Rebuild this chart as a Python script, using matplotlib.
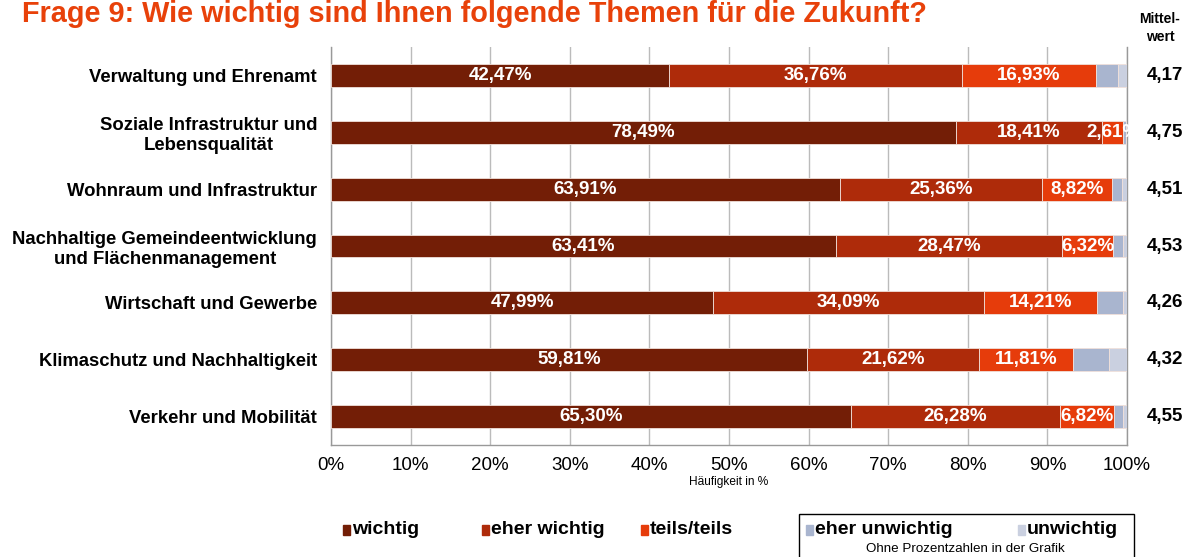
import matplotlib
matplotlib.use("Agg")
import matplotlib.pyplot as plt
from matplotlib.patches import Rectangle

plt.rcParams['font.family'] = ['Liberation Sans', 'DejaVu Sans']

categories = [
    "Verwaltung und Ehrenamt",
    "Soziale Infrastruktur und\nLebensqualität",
    "Wohnraum und Infrastruktur",
    "Nachhaltige Gemeindeentwicklung\nund Flächenmanagement",
    "Wirtschaft und Gewerbe",
    "Klimaschutz und Nachhaltigkeit",
    "Verkehr und Mobilität",
]
wichtig = [42.47, 78.49, 63.91, 63.41, 47.99, 59.81, 65.30]
eher_wichtig = [36.76, 18.41, 25.36, 28.47, 34.09, 21.62, 26.28]
teils_teils = [16.93, 2.61, 8.82, 6.32, 14.21, 11.81, 6.82]
eher_unwichtig = [2.75, 0.37, 1.33, 1.30, 3.25, 4.55, 1.05]
unwichtig = [1.09, 0.12, 0.58, 0.50, 0.46, 2.21, 0.55]
mittelwert = ["4,17", "4,75", "4,51", "4,53", "4,26", "4,32", "4,55"]
series_names = ["wichtig", "eher wichtig", "teils/teils", "eher unwichtig", "unwichtig"]
colors = ["#731E06", "#AE2B0A", "#E63C0B", "#A9B5CF", "#CAD0E0"]
xticks = [0, 10, 20, 30, 40, 50, 60, 70, 80, 90, 100]

W, H = 1194, 557
fig = plt.figure(figsize=(W / 100, H / 100), dpi=100)
ax = fig.add_axes([331 / W, 1 - 445 / H, (1127 - 331) / W, (445 - 47) / H])

series = [wichtig, eher_wichtig, teils_teils, eher_unwichtig, unwichtig]
ypos = list(range(len(categories)))
left = [0.0] * len(categories)
for si, (vals, col) in enumerate(zip(series, colors)):
    ax.barh(ypos, vals, left=left, height=0.40, color=col,
            edgecolor="#F0E0DA", linewidth=0.6, zorder=3)
    if si < 3:
        for i, v in enumerate(vals):
            ax.text(left[i] + v / 2, i, f"{v:.2f}%".replace(".", ","),
                    ha="center", va="center", color="white",
                    fontsize=13.5, fontweight="bold", zorder=4)
    left = [l + v for l, v in zip(left, vals)]

ax.set_xlim(0, 100)
ax.set_ylim(6.5, -0.5)
ax.set_xticks(xticks)
ax.set_xticklabels([f"{t}%" for t in xticks], fontsize=13.5)
ax.tick_params(axis="x", length=0, pad=9)
ax.set_yticks(ypos)
ax.set_yticklabels(categories, fontsize=13.3, fontweight="bold",
                   multialignment="center")
ax.tick_params(axis="y", length=0, pad=10)
ax.grid(axis="x", color="#BBBBBB", linewidth=1, zorder=0)
ax.set_axisbelow(True)
ax.spines["top"].set_visible(False)
for s in ["left", "bottom", "right"]:
    ax.spines[s].set_color("#999999")
    ax.spines[s].set_linewidth(1)

ax.set_xlabel("Häufigkeit in %", fontsize=8.6, labelpad=1)

# title
fig.text(22 / W, 1 - 22 / H, "Frage 9: Wie wichtig sind Ihnen folgende Themen für die Zukunft?",
         color="#E8410A", fontsize=20.8, fontweight="bold", ha="left", va="baseline")

# Mittelwert column
fig.text(1160 / W, 1 - 28 / H, "Mittel-\nwert", fontsize=10, fontweight="bold",
         ha="center", va="center", linespacing=1.3)
for i, m in enumerate(mittelwert):
    ax.text(1.048, i, m, transform=ax.get_yaxis_transform(), fontsize=13.5,
            fontweight="bold", ha="center", va="center")

# legend
ly = 1 - 529 / H
leg_pos = [(343, 352), (482, 491), (641, 650), (806, 815), (1018, 1027)]
for (sx, tx), name, col in zip(leg_pos, series_names, colors):
    fig.patches.append(Rectangle((sx / W, ly - 6 / H), 7 / W, 10 / H,
                                 transform=fig.transFigure, color=col))
    fig.text(tx / W, ly, name, fontsize=14, fontweight="bold",
             ha="left", va="center")
fig.patches.append(Rectangle((799 / W, -0.01), (1134 - 799) / W, (557 - 514) / H + 0.01,
                             transform=fig.transFigure, fill=False,
                             edgecolor="black", linewidth=1))
fig.text(965 / W, 1 - 549 / H, "Ohne Prozentzahlen in der Grafik", fontsize=9.6,
         ha="center", va="center")

fig.savefig("out.png", dpi=100)
